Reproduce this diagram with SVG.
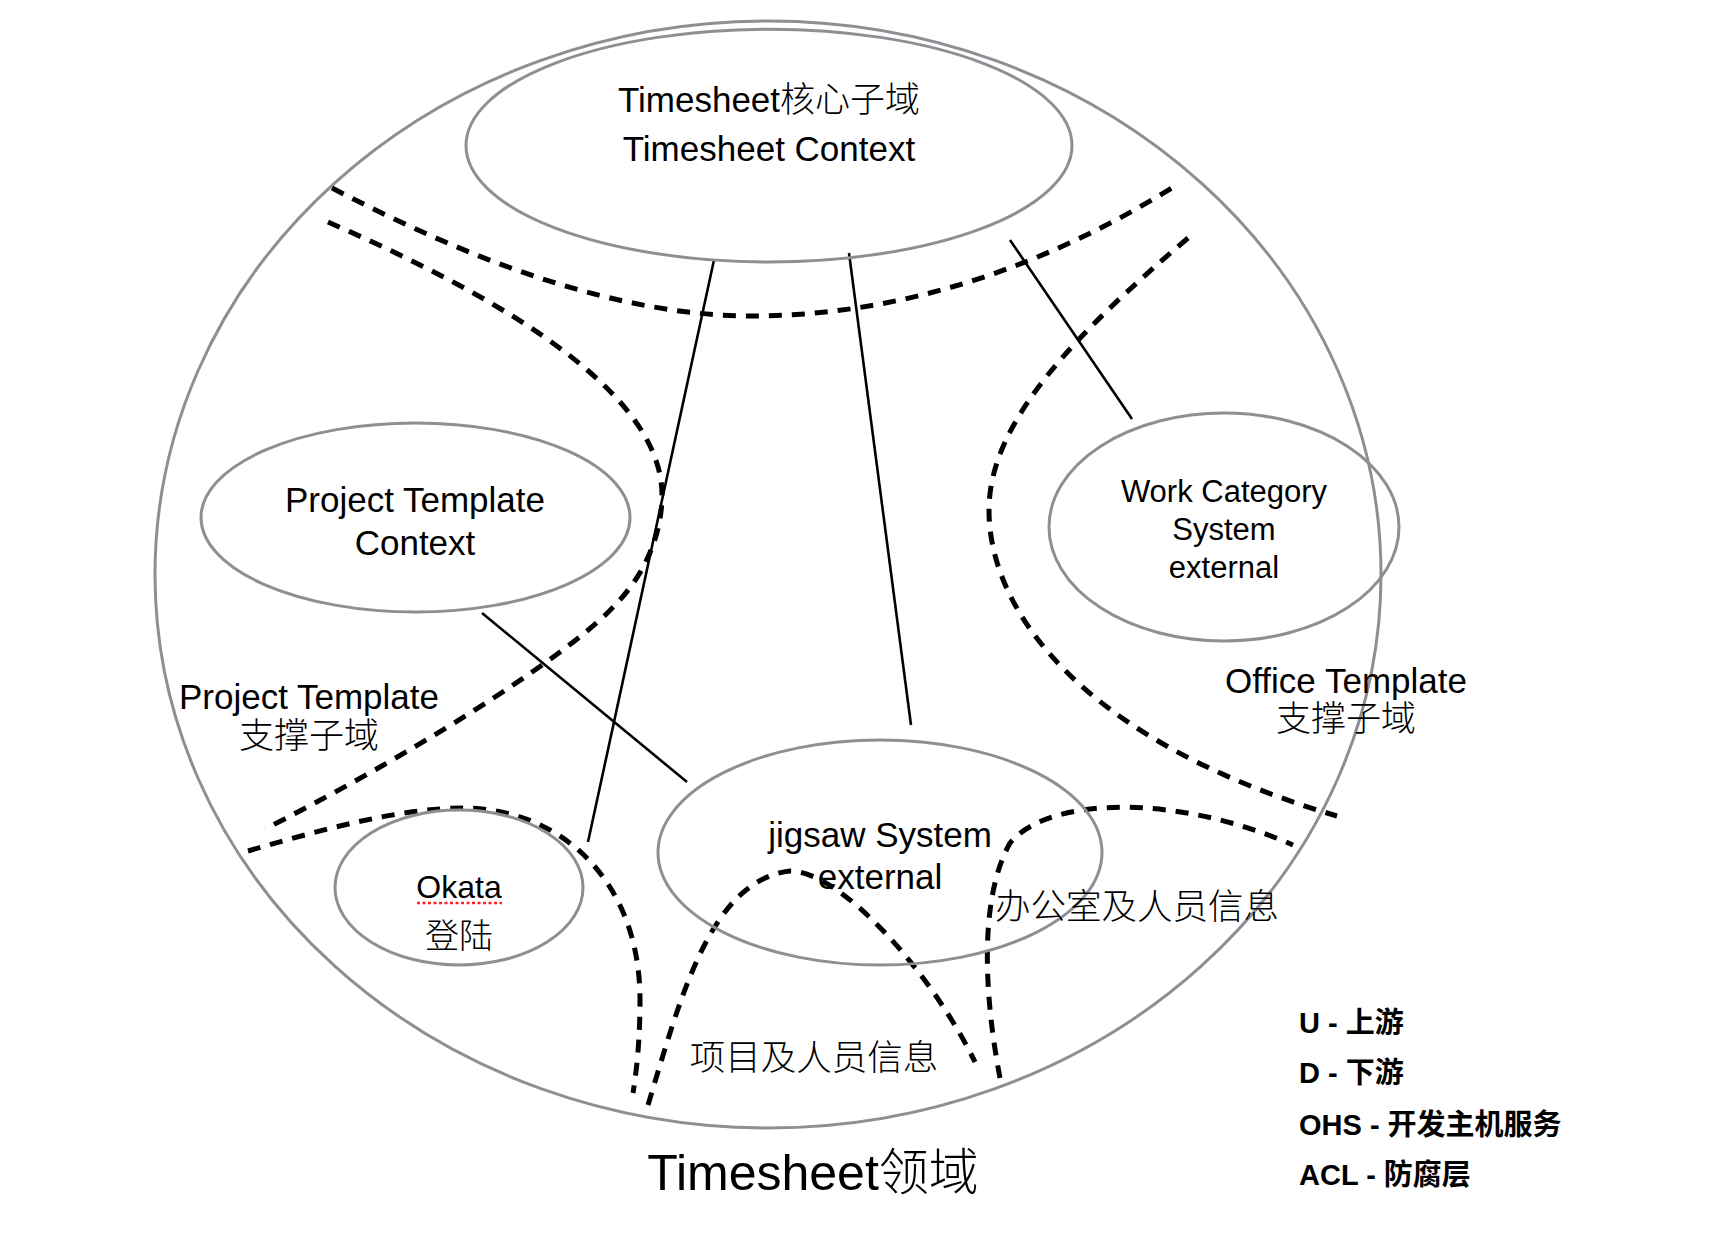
<svg xmlns="http://www.w3.org/2000/svg" width="1714" height="1242" viewBox="0 0 1714 1242">
<style>
.ell{fill:none;stroke:#8e8f94;stroke-width:3}
.dash{fill:none;stroke:#000;stroke-width:5;stroke-dasharray:13 10}
.sol{fill:none;stroke:#000;stroke-width:2.6}
.t{font-family:"Liberation Sans","Noto Sans CJK SC",sans-serif;font-weight:300;fill:#000;text-anchor:middle}
.lg{font-family:"Liberation Sans","Noto Sans CJK SC",sans-serif;font-weight:bold;fill:#000;font-size:29px}
</style>
<rect width="1714" height="1242" fill="#fff"/>
<g id="domain">
<ellipse class="ell" cx="768" cy="574.5" rx="613" ry="553.5"/>
<text class="t" x="813" y="1190" font-size="50">Timesheet领域</text>
</g>
<g id="boundaries">
<path class="dash" d="M332 188 C470 260 620 318 760 316 C900 314 1040 270 1175 186"/>
<path class="dash" d="M328 222 C460 280 662 380 662 495 C662 540 640 580 615 605 C580 645 440 740 265 829"/>
<path class="dash" d="M1188 238 C1080 330 989 420 989 510 C989 610 1080 740 1337 816"/>
<path class="dash" d="M248 851 C320 830 400 808 463 808 C560 808 640 880 640 1000 Q640 1050 633 1093"/>
<path class="dash" d="M648 1105 C680 1000 710 880 790 871 C840 871 930 970 975 1062"/>
<path class="dash" d="M1000 1078 C985 1000 978 900 1010 843 C1050 795 1180 795 1293 845"/>
</g>
<g id="connectors">
<line class="sol" x1="714" y1="260" x2="588" y2="842"/>
<line class="sol" x1="849" y1="253" x2="911" y2="725"/>
<line class="sol" x1="1010" y1="240" x2="1132" y2="419"/>
<line class="sol" x1="482" y1="613" x2="687" y2="782"/>
</g>
<g id="timesheet-context">
<ellipse class="ell" cx="769" cy="145.6" rx="303" ry="116.4"/>
<text class="t" x="769" y="112" font-size="35">Timesheet核心子域</text>
<text class="t" x="769" y="161" font-size="35">Timesheet Context</text>
</g>
<g id="project-template-context">
<ellipse class="ell" cx="415.5" cy="517.5" rx="214.5" ry="94.5"/>
<text class="t" x="415" y="512" font-size="35">Project Template</text>
<text class="t" x="415" y="555" font-size="35">Context</text>
</g>
<g id="work-category">
<ellipse class="ell" cx="1224" cy="527" rx="175" ry="114"/>
<text class="t" x="1224" y="502" font-size="31">Work Category</text>
<text class="t" x="1224" y="540" font-size="31">System</text>
<text class="t" x="1224" y="578" font-size="31">external</text>
</g>
<g id="jigsaw">
<ellipse class="ell" cx="880" cy="852.5" rx="222" ry="112.5"/>
<text class="t" x="880" y="847" font-size="35">jigsaw System</text>
<text class="t" x="880" y="889" font-size="35">external</text>
</g>
<g id="okata">
<ellipse class="ell" cx="459" cy="887.5" rx="124" ry="77.5"/>
<text class="t" x="459" y="898" font-size="32">Okata</text>
<line x1="417" y1="903" x2="502" y2="903" stroke="#ff2020" stroke-width="2.5" stroke-dasharray="3 2.5"/>
<text class="t" x="459" y="948" font-size="34">登陆</text>
</g>
<g id="labels">
<text class="t" x="309" y="709" font-size="35">Project Template</text>
<text class="t" x="309" y="748" font-size="35">支撑子域</text>
<text class="t" x="1346" y="693" font-size="35">Office Template</text>
<text class="t" x="1346" y="731" font-size="35">支撑子域</text>
<text class="t" x="1137" y="919" font-size="35.5">办公室及人员信息</text>
<text class="t" x="814" y="1070" font-size="35.5">项目及人员信息</text>
</g>
<g id="legend">
<text class="lg" x="1299" y="1033">U - 上游</text>
<text class="lg" x="1299" y="1083">D - 下游</text>
<text class="lg" x="1299" y="1135">OHS - 开发主机服务</text>
<text class="lg" x="1299" y="1185">ACL - 防腐层</text>
</g>
</svg>
